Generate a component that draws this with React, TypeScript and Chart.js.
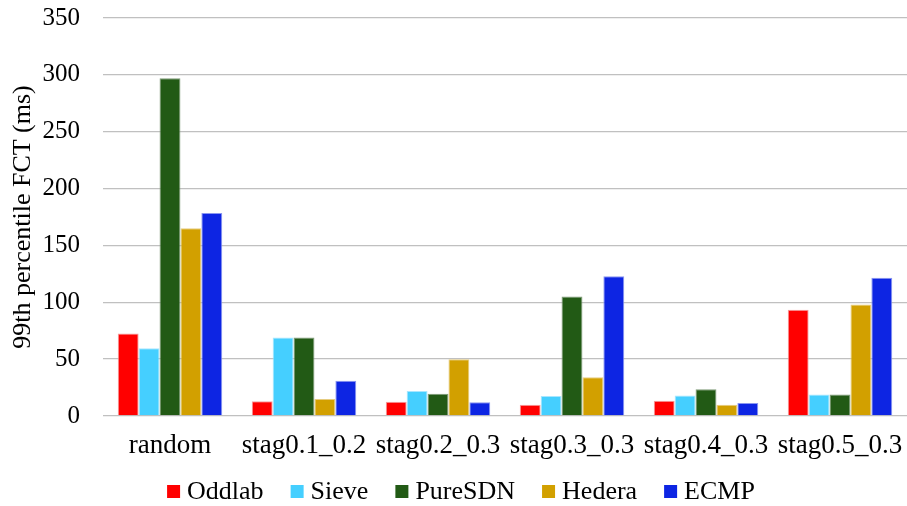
import React, { useEffect, useRef } from "react";
import { Chart, registerables } from "chart.js";

Chart.register(...registerables);

// Flow completion time (99th percentile, ms) per traffic pattern
const categories = ["random", "stag0.1_0.2", "stag0.2_0.3", "stag0.3_0.3", "stag0.4_0.3", "stag0.5_0.3"];
const oddlab = [72.5, 13, 12.5, 10, 13.5, 93.5];
const sieve = [59.5, 69, 22, 17.5, 18, 19];
const pureSDN = [297, 69, 19.5, 105, 23.5, 19];
const hedera = [165, 15, 50, 34, 10, 98];
const ecmp = [178.5, 31, 12, 123, 11.5, 121.5];

const seriesNames = ["Oddlab", "Sieve", "PureSDN", "Hedera", "ECMP"];
const seriesColors = ["#ff0000", "#45cfff", "#225a15", "#d2a000", "#0d25e3"];
const seriesBorders = ["#f3a0a0", "#a8e6ff", "#7f9a78", "#e6cc80", "#8a96f0"];

const yMin = 0;
const yMax = 350;
const yStep = 50;

const FONT = '"Liberation Serif", "Times New Roman", serif';

// Legend drawn in the space reserved beneath the x axis
const bottomLegend = {
  id: "bottomLegend",
  afterDraw(chart: any) {
    const ctx = chart.ctx;
    ctx.save();
    ctx.font = `26px ${FONT}`;
    ctx.textBaseline = "middle";
    ctx.textAlign = "left";
    const box = 13;
    const boxGap = 7;
    const itemGap = 27;
    const widths = seriesNames.map((n) => ctx.measureText(n).width);
    const total =
      widths.reduce((a, w) => a + w + box + boxGap, 0) + itemGap * (seriesNames.length - 1);
    let x = 461 - total / 2;
    const cy = 492;
    seriesNames.forEach((name, i) => {
      ctx.fillStyle = seriesColors[i];
      ctx.fillRect(x, cy - box / 2 - 0.5, box, box);
      ctx.fillStyle = "#000";
      ctx.fillText(name, x + box + boxGap, cy);
      x += box + boxGap + widths[i] + itemGap;
    });
    ctx.restore();
  },
};

export default function App() {
  const canvasRef = useRef<HTMLCanvasElement | null>(null);

  useEffect(() => {
    document.body.style.margin = "0";
    const canvas = canvasRef.current;
    if (!canvas) return;
    const values = [oddlab, sieve, pureSDN, hedera, ecmp];
    const chart = new Chart(canvas, {
      type: "bar",
      data: {
        labels: categories,
        datasets: seriesNames.map((name, i) => ({
          label: name,
          data: values[i],
          backgroundColor: seriesColors[i],
          borderColor: seriesBorders[i],
          borderWidth: 1,
          categoryPercentage: 0.78,
          barPercentage: 1,
        })),
      },
      options: {
        animation: false,
        responsive: false,
        layout: { padding: { top: 18, left: 0, right: 0, bottom: 46 } },
        plugins: {
          legend: { display: false },
          tooltip: { enabled: false },
        },
        scales: {
          x: {
            grid: { display: false, drawTicks: false },
            border: { display: false },
            ticks: {
              color: "#000",
              padding: 14,
              maxRotation: 0,
              autoSkip: false,
              font: { family: FONT, size: 27 },
            },
            afterFit(scale: any) {
              scale.height = 44;
              scale.paddingLeft = 0;
              scale.paddingRight = 0;
            },
          },
          y: {
            min: yMin,
            max: yMax,
            grid: { color: "#c0c0c0", lineWidth: 1.3, drawTicks: false },
            border: { display: false },
            ticks: {
              stepSize: yStep,
              color: "#000",
              padding: 23,
              font: { family: FONT, size: 25 },
            },
            title: {
              display: true,
              text: "99th percentile FCT (ms)",
              color: "#000",
              font: { family: FONT, size: 26 },
              padding: { top: 8, bottom: 0 },
            },
            afterFit(scale: any) {
              scale.width = 103;
              scale.paddingTop = 0;
              scale.paddingBottom = 0;
            },
          },
        },
      },
      plugins: [bottomLegend],
    });
    return () => chart.destroy();
  }, []);

  return (
    <div style={{ width: 907, height: 506 }}>
      <canvas ref={canvasRef} width={907} height={506} style={{ display: "block" }} />
    </div>
  );
}
